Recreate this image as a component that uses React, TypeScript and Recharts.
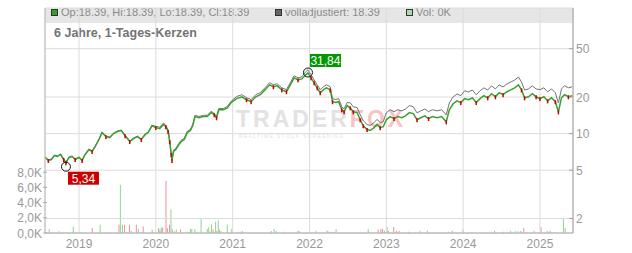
import React from 'react';
import { ComposedChart, Line, Bar, Cell, XAxis, YAxis, CartesianGrid, ReferenceDot } from 'recharts';

// ---- price data (decimal year, close, fully adjusted) ----
const priceT = [
  2018.56, 2018.60, 2018.64, 2018.68, 2018.72, 2018.76, 2018.80, 2018.83, 2018.87, 2018.91,
  2018.95, 2019.00, 2019.04, 2019.08, 2019.13, 2019.17, 2019.21, 2019.26, 2019.30, 2019.35,
  2019.40, 2019.45, 2019.50, 2019.55, 2019.60, 2019.66, 2019.71, 2019.76, 2019.81, 2019.86,
  2019.90, 2019.95, 2020.00, 2020.05, 2020.10, 2020.13, 2020.16, 2020.18, 2020.20, 2020.21,
  2020.23, 2020.26, 2020.30, 2020.33, 2020.37, 2020.41, 2020.45, 2020.48, 2020.51, 2020.56,
  2020.62, 2020.67, 2020.72, 2020.76, 2020.79, 2020.82, 2020.88, 2020.93, 2020.98, 2021.05,
  2021.12, 2021.18, 2021.24, 2021.30, 2021.36, 2021.42, 2021.48, 2021.53, 2021.58, 2021.64,
  2021.70, 2021.75, 2021.80, 2021.85, 2021.90, 2021.95, 2021.98, 2022.02, 2022.06, 2022.10,
  2022.14, 2022.18, 2022.22, 2022.27, 2022.30, 2022.34, 2022.38, 2022.42, 2022.45, 2022.49,
  2022.53, 2022.57, 2022.62, 2022.66, 2022.70, 2022.75, 2022.79, 2022.84, 2022.88, 2022.92,
  2022.96, 2023.00, 2023.05, 2023.10, 2023.15, 2023.20, 2023.25, 2023.30, 2023.35, 2023.40,
  2023.45, 2023.50, 2023.55, 2023.60, 2023.66, 2023.72, 2023.78, 2023.82, 2023.87, 2023.92,
  2023.97, 2024.02, 2024.07, 2024.12, 2024.17, 2024.22, 2024.27, 2024.32, 2024.37, 2024.42,
  2024.47, 2024.52, 2024.57, 2024.62, 2024.67, 2024.72, 2024.76, 2024.80, 2024.85, 2024.90,
  2024.95, 2025.00, 2025.05, 2025.10, 2025.15, 2025.20, 2025.24, 2025.28, 2025.32, 2025.37,
  2025.42,
];
const closeVals = [
  6.36, 6.01, 6.12, 6.60, 6.48, 6.73, 6.12, 5.75, 6.36, 6.48,
  6.12, 6.36, 6.01, 6.73, 7.39, 7.12, 7.82, 8.94, 10.2, 9.45,
  9.27, 10.0, 10.4, 10.6, 9.6, 8.6, 9.1, 9.45, 8.94, 9.8,
  10.2, 11.6, 11.2, 11.0, 11.9, 11.4, 10.4, 8.6, 6.73, 6.0,
  7.12, 7.39, 8.12, 8.6, 8.94, 10.2, 10.6, 11.6, 13.8, 13.5,
  13.8, 13.8, 14.9, 14.3, 13.5, 15.7, 15.7, 16.3, 18.0, 19.4,
  20.1, 19.0, 18.3, 20.1, 20.9, 22.9, 25.2, 24.3, 24.7, 22.9,
  22.1, 25.2, 28.8, 27.7, 28.2, 30.4, 31.6, 28.8, 26.2, 23.8,
  21.7, 22.9, 23.8, 22.9, 18.3, 18.0, 18.3, 15.7, 15.1, 17.0,
  16.3, 15.1, 14.9, 13.0, 11.6, 10.8, 10.6, 11.2, 11.9, 11.2,
  11.4, 13.0, 13.8, 13.3, 13.8, 13.5, 14.0, 14.9, 14.6, 13.0,
  13.5, 14.0, 13.3, 13.8, 13.5, 13.8, 12.5, 15.7, 17.6, 18.6,
  18.0, 19.4, 19.0, 19.7, 18.0, 19.4, 20.5, 19.7, 21.3, 20.1,
  21.7, 20.9, 22.1, 22.9, 23.8, 25.2, 22.9, 19.7, 20.1, 21.3,
  20.1, 19.4, 20.1, 18.6, 19.7, 18.3, 15.1, 19.7, 20.9, 20.1,
  20.5,
];
const adjVals = [
  6.42, 6.07, 6.18, 6.67, 6.54, 6.80, 6.18, 5.81, 6.42, 6.54,
  6.18, 6.42, 6.07, 6.80, 7.46, 7.19, 7.90, 9.03, 10.3, 9.54,
  9.36, 10.1, 10.5, 10.7, 9.70, 8.69, 9.19, 9.54, 9.03, 9.90,
  10.3, 11.72, 11.48, 11.28, 12.2, 11.69, 10.66, 8.82, 6.90, 6.15,
  7.30, 7.57, 8.32, 8.82, 9.16, 10.46, 10.87, 11.89, 14.15, 13.84,
  14.15, 14.15, 15.27, 14.66, 13.84, 16.09, 16.09, 16.71, 18.45, 20.18,
  20.9, 19.76, 19.03, 20.9, 21.74, 23.82, 26.21, 25.27, 25.69, 23.82,
  22.98, 26.21, 29.95, 28.81, 29.33, 32.22, 33.5, 30.53, 27.77, 25.23,
  23.0, 24.27, 25.23, 24.27, 19.4, 19.08, 19.4, 16.64, 16.01, 18.02,
  17.93, 16.61, 16.39, 14.3, 12.76, 11.88, 11.66, 12.32, 13.09, 12.32,
  12.54, 14.82, 15.73, 15.16, 15.73, 15.39, 15.96, 16.99, 16.64, 14.82,
  15.39, 15.96, 15.16, 15.73, 15.39, 15.73, 14.25, 17.9, 20.06, 21.2,
  20.52, 22.5, 22.04, 22.85, 20.88, 22.5, 23.78, 22.85, 24.71, 23.32,
  25.17, 24.24, 25.64, 26.56, 27.61, 29.23, 26.56, 22.85, 23.32, 24.71,
  23.32, 22.99, 23.82, 22.04, 23.34, 21.69, 17.89, 23.34, 24.77, 23.82,
  24.29,
];

// ---- volume data ----
const volT = [
  2018.613, 2018.743, 2018.927, 2019.173, 2019.277, 2019.522, 2019.540, 2019.568, 2019.595, 2019.658,
  2019.681, 2019.748, 2019.775, 2019.837, 2019.954, 2020.036, 2020.055, 2020.073, 2020.091, 2020.134,
  2020.152, 2020.180, 2020.198, 2020.216, 2020.241, 2020.268, 2020.322, 2020.411, 2020.452, 2020.470,
  2020.510, 2020.533, 2020.591, 2020.672, 2020.690, 2020.708, 2020.726, 2020.748, 2020.780, 2020.797,
  2020.814, 2020.831, 2020.848, 2020.931, 2020.990, 2021.074, 2021.101, 2021.129, 2021.505, 2021.541,
  2021.568, 2021.671, 2021.852, 2021.870, 2022.089, 2022.232, 2022.250, 2022.281, 2022.313, 2022.348,
  2022.766, 2022.896, 2022.931, 2022.953, 2022.977, 2023.012, 2023.030, 2023.098, 2023.133, 2023.169,
  2023.290, 2023.443, 2023.536, 2023.810, 2023.859, 2023.999, 2024.410, 2024.524, 2024.621, 2024.680,
  2024.716, 2024.751, 2024.791, 2024.926, 2025.016, 2025.096, 2025.133, 2025.307, 2025.329,
];
const volVals = [
  540, 220, 850, 670, 1070, 1070, 6340, 1070, 1070, 1070,
  310, 1070, 540, 850, 450, 670, 450, 710, 710, 6880,
  670, 1070, 3100, 540, 270, 450, 450, 180, 540, 540,
  540, 180, 1880, 540, 760, 180, 1120, 450, 1470, 270,
  1650, 450, 270, 1120, 540, 180, 180, 270, 270, 540,
  270, 180, 310, 220, 310, 310, 180, 180, 180, 540,
  540, 450, 540, 540, 310, 800, 270, 800, 310, 270,
  180, 310, 310, 180, 310, 450, 310, 180, 310, 220,
  220, 270, 670, 310, 800, 310, 310, 1880, 670,
];
const volDir = [
  'g', 'g', 'g', 'r', 'g', 'r', 'g', 'g', 'r', 'r',
  'g', 'r', 'g', 'r', 'g', 'g', 'r', 'g', 'r', 'r',
  'r', 'r', 'g', 'g', 'g', 'g', 'r', 'g', 'g', 'g',
  'g', 'g', 'g', 'g', 'g', 'r', 'g', 'r', 'g', 'r',
  'g', 'g', 'g', 'g', 'g', 'g', 'g', 'g', 'g', 'g',
  'g', 'g', 'r', 'g', 'g', 'r', 'g', 'g', 'g', 'g',
  'g', 'r', 'r', 'r', 'g', 'g', 'r', 'r', 'r', 'r',
  'r', 'g', 'g', 'g', 'r', 'g', 'r', 'r', 'g', 'g',
  'g', 'g', 'r', 'g', 'r', 'g', 'r', 'g', 'g',
];

const yearTicks = [2019, 2020, 2021, 2022, 2023, 2024, 2025];
const priceTicks = [2, 5, 10, 20, 50];
const volTicks = [0, 2000, 4000, 6000, 8000];
const lowPoint = { t: 2018.83, v: 5.34 };
const highPoint = { t: 2021.98, v: 31.84 };

const legendItems = [
  { label: 'Op:18.39, Hi:18.39, Lo:18.39, Cl:18.39', color: '#33a02c', x: 51 },
  { label: 'volladjustiert: 18.39', color: '#666666', x: 275 },
  { label: 'Vol: 0K', color: '#a8dca8', x: 406 },
];
const titleText = '6 Jahre, 1-Tages-Kerzen';

// ---- styling ----
const FONT = '"Liberation Sans", Arial, Helvetica, sans-serif';
const GREEN = '#3d9f2f';
const RED = '#cc0000';
const GRAY_LINE = '#747474';
const VOL_GREEN = '#8ed48e';
const VOL_RED = '#ee909a';
const AXIS_TXT = '#999999';
const X_DOMAIN: [number, number] = [2018.557, 2025.43];
const VOL_DOMAIN: [number, number] = [0, 29600];

type Row = { t: number; close: number; adj: number; down: boolean };
const rows: Row[] = priceT.map((t, i) => ({
  t,
  close: closeVals[i],
  adj: adjVals[i],
  down: i > 0 && closeVals[i] < closeVals[i - 1] * 0.97,
}));

type VRow = { t: number; vol: number; vdown: boolean };
const volRows: VRow[] = volT.map((t, i) => ({ t, vol: volVals[i], vdown: volDir[i] === 'r' }));

const fmtK = (v: number) => (v / 1000).toFixed(1).replace('.', ',') + 'K';
const fmtDe = (v: number) => v.toFixed(2).replace('.', ',');

const VolTick = (props: any) => {
  const { x, y, payload } = props;
  return (
    <g>
      <line x1={x + 1} x2={x + 5} y1={y} y2={y} stroke="#b0b0b0" />
      <text x={x} y={y} dy={4.5} textAnchor="end" fill={AXIS_TXT} fontSize={12} fontFamily={FONT}>
        {fmtK(payload.value)}
      </text>
    </g>
  );
};

const PriceTick = (props: any) => {
  const { x, y, payload } = props;
  return (
    <g>
      <line x1={x - 7} x2={x - 3} y1={y} y2={y} stroke="#a0a0a0" />
      <text x={x} y={y} dy={4.5} textAnchor="start" fill={AXIS_TXT} fontSize={12} fontFamily={FONT}>
        {payload.value}
      </text>
    </g>
  );
};

const CandleDot = (props: any) => {
  const { cx, cy, payload, index } = props;
  if (cx == null || cy == null || !payload || !payload.down) return <g key={`d${index}`} />;
  return <rect key={`d${index}`} x={cx - 0.75} y={cy - 1.5} width={1.5} height={4} fill={RED} />;
};

const markShape = (value: number, bg: string, above: boolean) => (props: any) => {
  const { cx, cy } = props;
  const txt = fmtDe(value);
  const w = 31;
  const h = 13;
  const bx = cx + 2;
  const by = above ? cy - 18.5 : cy + 5;
  return (
    <g>
      <rect x={bx} y={by} width={w} height={h} fill={bg} />
      <text x={bx + w / 2} y={by + h / 2 + 4.3} textAnchor="middle" fill="#ffffff" fontSize={12} fontFamily={FONT}>
        {txt}
      </text>
      <circle cx={cx} cy={cy} r={4.5} fill="none" stroke="#111" strokeWidth={1} />
    </g>
  );
};

export default function App() {
  return (
    <div style={{ position: 'absolute', left: 0, top: 0, width: 632, height: 253, background: '#fff', fontFamily: FONT, overflow: 'hidden' }}>
      <svg width={632} height={253} style={{ position: 'absolute', left: 0, top: 0 }}>
        <rect x={45} y={8} width={528} height={15} fill="#e6e6e6" />
        {legendItems.map((it) => (
          <g key={it.label}>
            <rect x={it.x + 0.5} y={9.5} width={6} height={6} fill={it.color} stroke="#333" strokeWidth={1} />
            <text x={it.x + 10} y={16} fontSize={11} fill="#8a8a8a" fontFamily={FONT}>
              {it.label}
            </text>
          </g>
        ))}
        <text x={54} y={36.5} fontSize={12.5} fontWeight="bold" fill="#737373" fontFamily={FONT}>
          {titleText}
        </text>
        <text x={236} y={127} fontSize={23} fontWeight="bold" fontFamily={FONT} letterSpacing={3}>
          <tspan fill="#e2e2e2">TRADER</tspan>
          <tspan fill="#f6c4c4">FOX</tspan>
        </text>
        <text x={239} y={137.5} fontSize={5} fill="#e2e2e2" fontFamily={FONT} letterSpacing={1.3}>
          REALTIME STOCK SCREENING
        </text>
      </svg>
      {/* volume layer */}
      <div style={{ position: 'absolute', left: 0, top: 0 }}>
        <ComposedChart width={632} height={253} data={volRows} margin={{ top: 8, right: 59, bottom: 20, left: 45 }}>
          <XAxis dataKey="t" type="number" domain={X_DOMAIN} allowDataOverflow hide />
          <YAxis type="number" domain={VOL_DOMAIN} allowDataOverflow hide />
          <Bar dataKey="vol" barSize={1} isAnimationActive={false}>
            {volRows.map((r, i) => (
              <Cell key={`c${i}`} fill={r.vdown ? VOL_RED : VOL_GREEN} />
            ))}
          </Bar>
        </ComposedChart>
      </div>
      {/* price layer */}
      <div style={{ position: 'absolute', left: 0, top: 0 }}>
        <ComposedChart width={632} height={253} data={rows} margin={{ top: 8, right: 0, bottom: 0, left: 0 }}>
          <CartesianGrid yAxisId="price" stroke="#dcdcdc" strokeWidth={1} />
          <XAxis
            dataKey="t"
            type="number"
            domain={X_DOMAIN}
            allowDataOverflow
            ticks={yearTicks}
            interval={0}
            height={20}
            tickSize={0}
            tickMargin={6}
            tickLine={false}
            axisLine={{ stroke: '#aaaaaa' }}
            tick={{ fill: AXIS_TXT, fontSize: 12, fontFamily: FONT }}
          />
          <YAxis
            yAxisId="vol"
            orientation="left"
            width={45}
            type="number"
            domain={VOL_DOMAIN}
            allowDataOverflow
            ticks={volTicks}
            interval={0}
            tickSize={0}
            tickMargin={3}
            tickLine={false}
            axisLine={{ stroke: '#bbbbbb' }}
            tick={<VolTick />}
          />
          <YAxis
            yAxisId="price"
            orientation="right"
            width={59}
            type="number"
            scale="log"
            domain={[1.52, 108.1]}
            allowDataOverflow
            ticks={priceTicks}
            interval={0}
            tickSize={0}
            tickMargin={3}
            tickLine={false}
            axisLine={{ stroke: '#a0a0a0' }}
            tick={<PriceTick />}
          />
          <Line
            yAxisId="price"
            dataKey="adj"
            type="linear"
            stroke={GRAY_LINE}
            strokeWidth={1}
            dot={false}
            activeDot={false}
            isAnimationActive={false}
          />
          <Line
            yAxisId="price"
            dataKey="close"
            type="linear"
            stroke={GREEN}
            strokeWidth={1.5}
            dot={CandleDot}
            activeDot={false}
            isAnimationActive={false}
          />
          <ReferenceDot yAxisId="price" x={lowPoint.t} y={lowPoint.v} r={4.5} shape={markShape(lowPoint.v, '#cc0000', false)} />
          <ReferenceDot yAxisId="price" x={highPoint.t} y={highPoint.v} r={4.5} shape={markShape(highPoint.v, '#009900', true)} />
        </ComposedChart>
      </div>
    </div>
  );
}
